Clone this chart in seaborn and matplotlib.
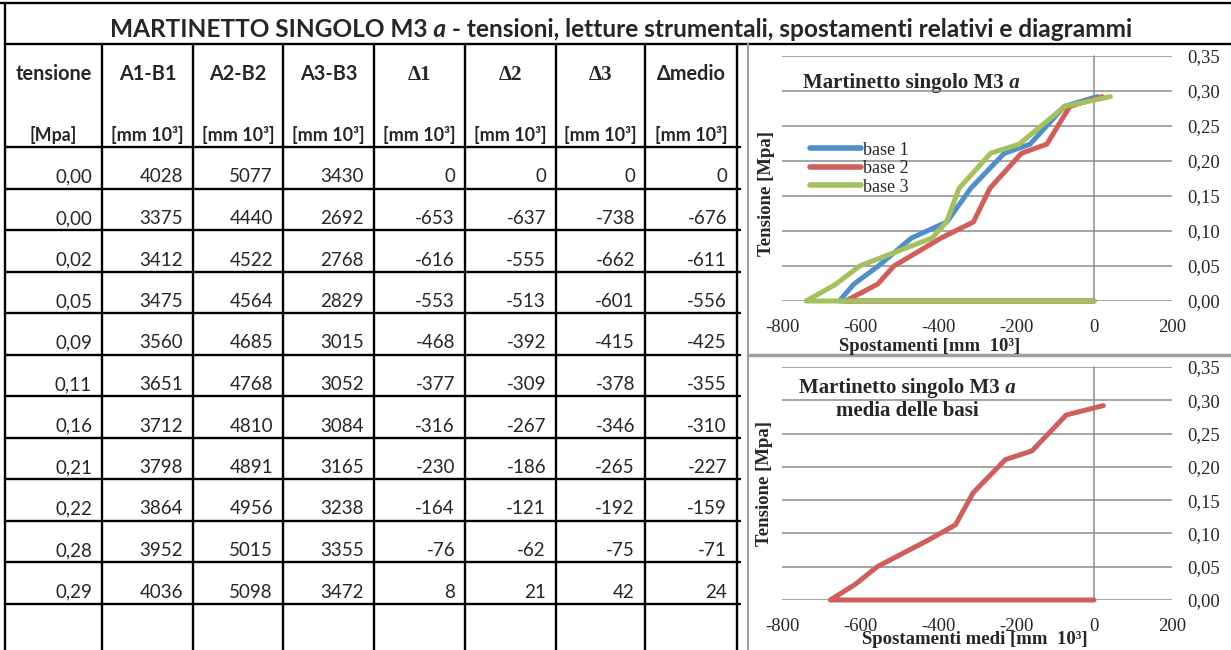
import numpy as np
import pandas as pd
import matplotlib
matplotlib.use("Agg")
import matplotlib.pyplot as plt
import seaborn as sns
from matplotlib.ticker import FuncFormatter, MultipleLocator

# letture (valori del foglio)
tensione = [0.0, 0.0, 0.024, 0.05, 0.09, 0.113, 0.161, 0.211, 0.224, 0.278, 0.292]
a1b1 = [4028, 3375, 3412, 3475, 3560, 3651, 3712, 3798, 3864, 3952, 4036]
a2b2 = [5077, 4440, 4522, 4564, 4685, 4768, 4810, 4891, 4956, 5015, 5098]
a3b3 = [3430, 2692, 2768, 2829, 3015, 3052, 3084, 3165, 3238, 3355, 3472]
delta1 = [0, -653, -616, -553, -468, -377, -316, -230, -164, -76, 8]
delta2 = [0, -637, -555, -513, -392, -309, -267, -186, -121, -62, 21]
delta3 = [0, -738, -662, -601, -415, -378, -346, -265, -192, -75, 42]
delta_medio = [0, -676, -611, -556, -425, -355, -310, -227, -159, -71, 24]

col_names = ["tensione", "A1-B1", "A2-B2", "A3-B3", "Δ1", "Δ2", "Δ3", "Δmedio"]
col_units = ["[Mpa]"] + ["[mm 10³]"] * 7
basi = ["base 1", "base 2", "base 3"]
colori = ["#4f8fca", "#cf5f5a", "#a3c15f"]

sns.set_style("white")
plt.rcParams["font.family"] = ["Lato", "DejaVu Sans"]

W, H = 1231, 650
fig = plt.figure(figsize=(W / 100, H / 100), dpi=100)
bg = fig.add_axes([0, 0, 1, 1])
bg.set_xlim(0, W)
bg.set_ylim(H, 0)
bg.axis("off")
rend = fig.canvas.get_renderer()


def testo_misto(x, y, parts, size, family):
    # scrive pezzi di testo uno dopo l'altro, centrati su x
    objs = []
    for t, style in parts:
        objs.append(bg.text(0, y, t, fontsize=size, family=family, fontweight="bold",
                            fontstyle=style, ha="left", va="baseline"))
    widths = [o.get_window_extent(rend).width for o in objs]
    start = x - sum(widths) / 2
    for o, w in zip(objs, widths):
        o.set_x(start)
        start += w


# ---- tabella ----
edges = [5, 102, 193, 283, 374, 465, 556, 645, 737]
row_h = 41.5
head_bot = 147
lw_t = 1.7

bg.plot([0, W], [3, 3], color="black", lw=lw_t)
bg.plot([5, W], [44, 44], color="black", lw=lw_t)
bg.plot([5, 5], [3, H], color="black", lw=lw_t)
for x in edges[1:]:
    bg.plot([x, x], [44, H], color="black", lw=lw_t)
for k in range(12):
    y = head_bot + k * row_h
    bg.plot([5, 740], [y, y], color="black", lw=lw_t)

testo_misto(621, 37, [("MARTINETTO SINGOLO M3", "normal"), (" a", "italic"),
                      (" - tensioni, letture strumentali, spostamenti relativi e diagrammi", "normal")],
            17.6, ["Lato", "DejaVu Sans"])

for i, (nm, un) in enumerate(zip(col_names, col_units)):
    cx = (edges[i] + edges[i + 1]) / 2
    fam = ["Liberation Serif"] if nm in ("Δ1", "Δ2", "Δ3") else ["Lato", "DejaVu Sans"]
    sz = 15 if nm in ("Δ1", "Δ2", "Δ3") else 14.3
    bg.text(cx, 80, nm, ha="center", va="baseline", fontsize=sz, fontweight="bold", family=fam)
    bg.text(cx, 141, un, ha="center", va="baseline", fontsize=12.9, fontweight="bold")

colonne = [[f"{v:.2f}".replace(".", ",") for v in tensione], a1b1, a2b2, a3b3,
           delta1, delta2, delta3, delta_medio]
for j, col in enumerate(colonne):
    for i, v in enumerate(col):
        yb = head_bot + (i + 1) * row_h - 6
        bg.text(edges[j + 1] - 10, yb, str(v), ha="right", va="baseline", fontsize=13.5)

# ---- riquadri dei grafici ----
grigio = "#a0a0a0"
bg.plot([748, 748], [44, H], color=grigio, lw=1.5)
bg.plot([748, W], [355, 355], color=grigio, lw=2.5)


def prepara(ax):
    ax.set_xlim(-800, 200)
    ax.set_ylim(0, 0.35)
    ax.set_facecolor("none")
    for s in ax.spines.values():
        s.set_visible(False)
    ax.yaxis.tick_right()
    ax.yaxis.set_major_locator(MultipleLocator(0.05))
    ax.xaxis.set_major_locator(MultipleLocator(200))
    ax.yaxis.set_major_formatter(FuncFormatter(lambda v, p: f"{v:.2f}".replace(".", ",")))
    ax.xaxis.set_major_formatter(FuncFormatter(lambda v, p: f"{v:.0f}"))
    ax.tick_params(length=0, labelsize=13.5)
    ax.tick_params(axis="y", pad=11)
    ax.tick_params(axis="x", pad=13)
    for lab in ax.get_xticklabels() + ax.get_yticklabels():
        lab.set_family("Liberation Serif")
    ax.yaxis.grid(True, color="#8c8c8c", lw=1.1)
    ax.axvline(0, color="#8c8c8c", lw=1.1, zorder=0.5)
    for ln in ax.get_lines():
        ln.set_clip_on(False)


def add_ax(top, bot):
    return fig.add_axes([782 / W, 1 - bot / H, (1172 - 782) / W, (bot - top) / H])


serif_b = dict(family="Liberation Serif", fontweight="bold", fontsize=13.5)

# grafico 1: tre basi
ax1 = add_ax(56, 301)
df = pd.DataFrame({
    "spost": delta1 + delta2 + delta3,
    "tensione": tensione * 3,
    "base": sum([[b] * len(tensione) for b in basi], []),
})
sns.lineplot(data=df, x="spost", y="tensione", hue="base", palette=colori, sort=False,
             estimator=None, lw=3.6, ax=ax1, solid_joinstyle="round", solid_capstyle="round")
prepara(ax1)
ax1.set_xlabel("Spostamenti [mm  10³]", **serif_b)
ax1.set_ylabel("Tensione [Mpa]", **serif_b)
ax1.xaxis.set_label_coords((930 - 782) / 390, -0.15)
ax1.yaxis.set_label_position("left")
ax1.yaxis.set_label_coords(-0.018, 0.44)
leg = ax1.legend(loc="upper left", bbox_to_anchor=(0.072, 0.65), frameon=False, borderpad=0,
                 borderaxespad=0, handlelength=2.8, handletextpad=0.15, labelspacing=0.08,
                 prop={"family": "Liberation Serif", "size": 13})
for l in leg.get_lines():
    l.set_linewidth(4)
testo_misto(911, 88, [("Martinetto singolo M3", "normal"), (" a", "italic")], 15, "Liberation Serif")

# grafico 2: media delle basi
ax2 = add_ax(367, 600)
sns.lineplot(x=delta_medio, y=tensione, sort=False, estimator=None, color=colori[1],
             lw=3.6, ax=ax2, solid_joinstyle="round", solid_capstyle="round")
prepara(ax2)
ax2.set_xlabel("Spostamenti medi [mm  10³]", **serif_b)
ax2.set_ylabel("Tensione [Mpa]", **serif_b)
ax2.xaxis.set_label_coords((975 - 782) / 390, -0.135)
ax2.yaxis.set_label_position("left")
ax2.yaxis.set_label_coords(-0.023, 0.5)
testo_misto(907, 393, [("Martinetto singolo M3", "normal"), (" a", "italic")], 15, "Liberation Serif")
bg.text(907, 416, "media delle basi", ha="center", va="baseline", **{**serif_b, "fontsize": 15})

fig.savefig("out.png", dpi=100)
